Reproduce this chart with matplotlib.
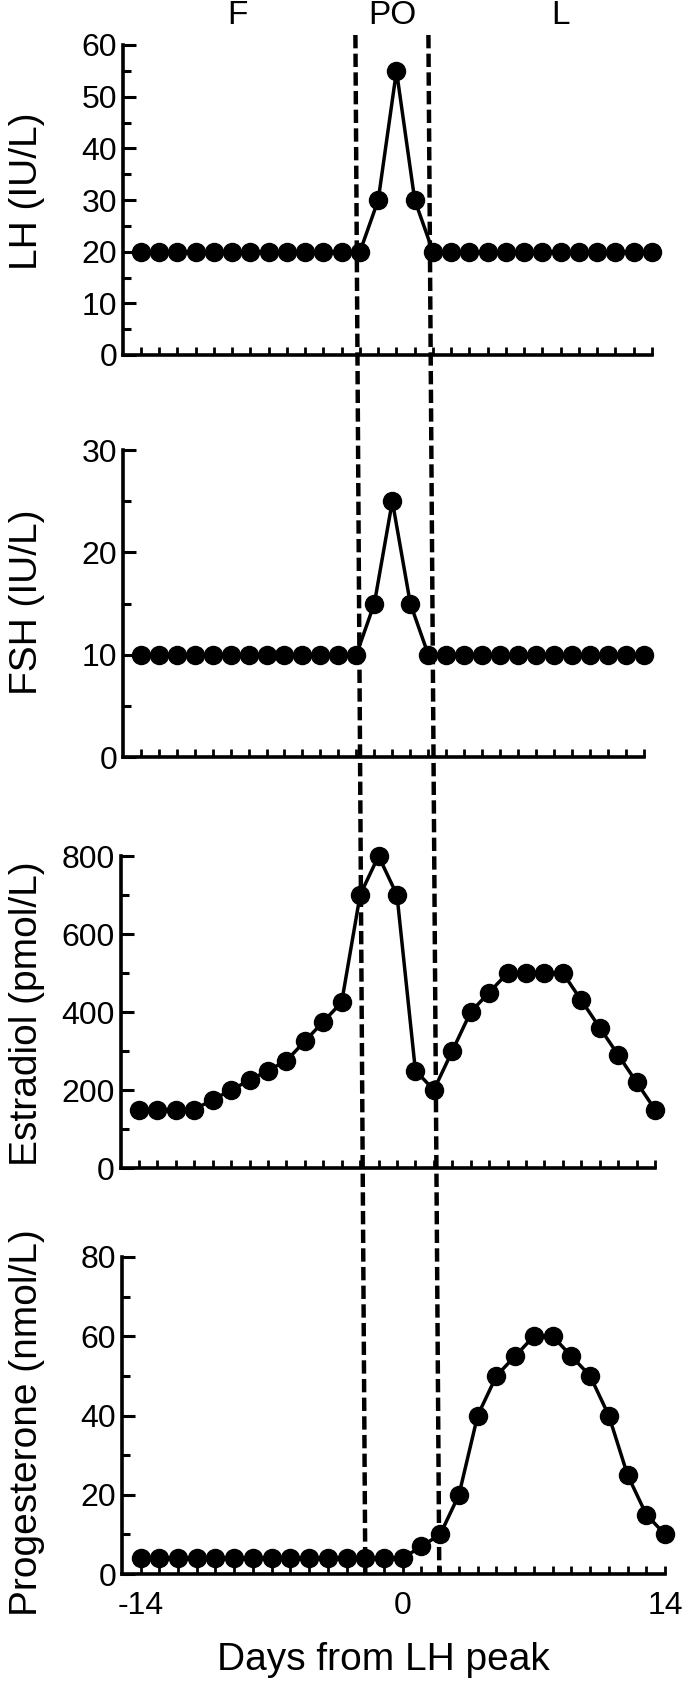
import matplotlib
matplotlib.use('Agg')
import matplotlib.pyplot as plt
from matplotlib.lines import Line2D
from matplotlib.transforms import blended_transform_factory

plt.rcParams['font.family'] = ['Liberation Sans', 'DejaVu Sans']

days = [-14, -13, -12, -11, -10, -9, -8, -7, -6, -5, -4, -3, -2, -1, 0,
        1, 2, 3, 4, 5, 6, 7, 8, 9, 10, 11, 12, 13, 14]
lh = [20, 20, 20, 20, 20, 20, 20, 20, 20, 20, 20, 20, 20, 30, 55,
      30, 20, 20, 20, 20, 20, 20, 20, 20, 20, 20, 20, 20, 20]
fsh = [10, 10, 10, 10, 10, 10, 10, 10, 10, 10, 10, 10, 10, 15, 25,
       15, 10, 10, 10, 10, 10, 10, 10, 10, 10, 10, 10, 10, 10]
estradiol = [150, 150, 150, 150, 175, 200, 225, 250, 275, 325, 375, 425, 700, 800, 700,
             250, 200, 300, 400, 450, 500, 500, 500, 500, 430, 360, 290, 220, 150]
progesterone = [4, 4, 4, 4, 4, 4, 4, 4, 4, 4, 4, 4, 4, 4, 4,
                7, 10, 20, 40, 50, 55, 60, 60, 55, 50, 40, 25, 15, 10]

ylabels = ['LH (IU/L)', 'FSH (IU/L)', 'Estradiol (pmol/L)', 'Progesterone (nmol/L)']
ymax = [60, 30, 800, 80]
ymajor = [10, 10, 200, 20]
phase_names = ['F', 'PO', 'L']
phase_x = [-8.7, -0.2, 9.0]
# phase boundaries (days): where the dashed lines sit in the top and bottom panel
bound_top = [-2.25, 1.75]
bound_bottom = [-2.0, 1.95]
xtick_labels = {-14: '-14', 0: '0', 14: '14'}

W, H, DPI = 687, 1682, 100
fig = plt.figure(figsize=(W / DPI, H / DPI), dpi=DPI)

# panel boxes in pixels: left, right, top, bottom
boxes = [(122.7, 652, 45, 355),
         (122.7, 644, 450, 757),
         (120.5, 655, 856, 1168),
         (121.8, 665, 1257, 1574)]
label_y = [191, 602, 1014, 1423]

tick_font = ['Liberation Sans Narrow', 'Liberation Sans', 'DejaVu Sans']

series = [lh, fsh, estradiol, progesterone]
axes = []
for i, (l, r, t, b) in enumerate(boxes):
    ax = fig.add_axes([l / W, 1 - b / H, (r - l) / W, (b - t) / H])
    ax.plot(days, series[i], 'o-', color='black', ms=13, lw=2.5,
            clip_on=False, zorder=3)
    ax.set_xlim(-15, 14)
    ax.set_ylim(0, ymax[i])
    for s in ['top', 'right']:
        ax.spines[s].set_visible(False)
    for s in ['left', 'bottom']:
        ax.spines[s].set_linewidth(2.6)
    step = ymajor[i]
    ax.set_yticks(list(range(0, ymax[i] + 1, step)))
    ax.set_yticks([v + step / 2 for v in range(0, ymax[i], step)], minor=True)
    ax.tick_params(axis='y', which='major', direction='in', length=9, width=2.2,
                   labelsize=23, pad=4)
    ax.tick_params(axis='y', which='minor', direction='in', length=6, width=2.2)
    ax.set_xticks(days)
    if i == 3:
        ax.set_xticklabels([xtick_labels.get(d, '') for d in days])
    else:
        ax.set_xticklabels(['' for d in days])
    ax.tick_params(axis='x', direction='in', length=6, width=2.0,
                   labelsize=23, pad=12)
    for lab in ax.get_xticklabels() + ax.get_yticklabels():
        lab.set_family(tick_font)
    fig.text(27 / W, 1 - label_y[i] / H, ylabels[i], rotation=90,
             ha='center', va='center', fontsize=28)
    axes.append(ax)

fig.text(383 / W, 1 - 1660 / H, 'Days from LH peak', ha='center', va='center',
         fontsize=28)

trans = blended_transform_factory(axes[0].transData, fig.transFigure)
for name, x in zip(phase_names, phase_x):
    fig.text(x, 1 - 15 / H, name, transform=trans, ha='center', va='center',
             fontsize=24)

# dashed phase boundaries: straight lines from above the top panel
# down to the x axis of the bottom panel
for xt, xb in zip(bound_top, bound_bottom):
    p0 = axes[0].transData.transform((xt, ymax[0]))
    p1 = axes[3].transData.transform((xb, 0))
    xs = [p0[0] / W, p1[0] / W]
    ys = [(p0[1] + 10) / H, p1[1] / H]
    fig.add_artist(Line2D(xs, ys, transform=fig.transFigure, color='black',
                          lw=3.2, linestyle=(0, (3.0, 1.2)), zorder=5))

fig.savefig('out.png', dpi=DPI)
